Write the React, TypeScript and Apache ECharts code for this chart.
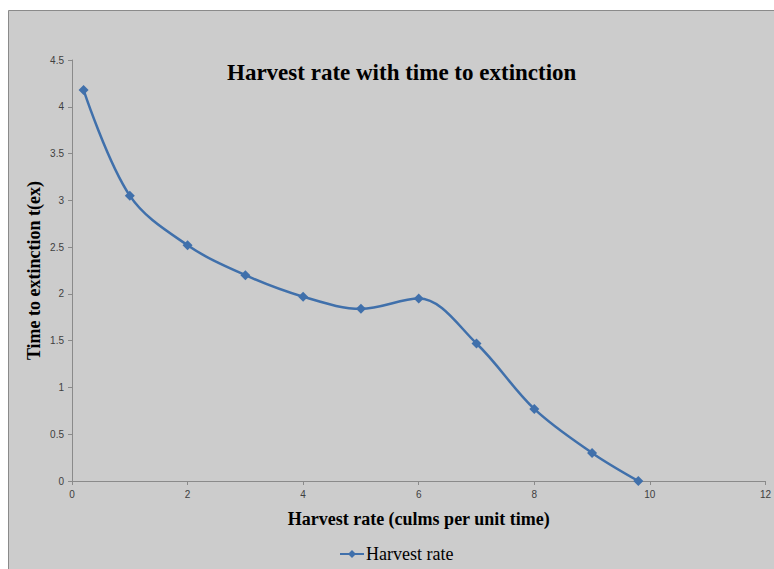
import React, { useEffect, useRef } from "react";
import * as echarts from "echarts";

const harvestRates = [0.2, 1, 2, 3, 4, 5, 6, 7, 8, 9, 9.8];
const timeToExtinction = [4.18, 3.05, 2.52, 2.2, 1.97, 1.84, 1.95, 1.47, 0.77, 0.3, 0];
const seriesName = "Harvest rate";
const titleText = "Harvest rate with time to extinction";
const xAxisName = "Harvest rate (culms per unit time)";
const yAxisName = "Time to extinction t(ex)";

export default function App() {
  const ref = useRef<HTMLDivElement>(null);
  useEffect(() => {
    if (!ref.current) return;
    const chart = echarts.init(ref.current, undefined, { renderer: "svg" });
    const lineColor = "#4070ab";
    const serif = "'Liberation Serif', 'Times New Roman', serif";
    const sans = "'Liberation Sans', Arial, sans-serif";
    chart.setOption({
      animation: false,
      backgroundColor: "#ffffff",
      graphic: [
        {
          type: "rect",
          shape: { x: 8.5, y: 10.5, width: 800, height: 600 },
          style: { fill: "#cccccc", stroke: "#8a8a8a", lineWidth: 1 },
          z: -10,
          silent: true,
        },
      ],
      title: {
        text: titleText,
        left: 222,
        top: 56,
        textStyle: { fontFamily: serif, fontSize: 23, fontWeight: "bold", color: "#000" },
      },
      grid: { left: 72, right: 6, top: 60, bottom: 88 },
      legend: {
        top: 540,
        left: 334,
        itemWidth: 24,
        itemHeight: 10,
        itemGap: 4,
        textStyle: { fontFamily: serif, fontSize: 18, color: "#000", padding: [0, 0, 0, -3] },
        data: [seriesName],
      },
      xAxis: {
        type: "value",
        min: 0,
        max: 12,
        interval: 2,
        name: xAxisName,
        nameLocation: "middle",
        nameGap: 29,
        nameTextStyle: { fontFamily: serif, fontSize: 18, fontWeight: "bold", color: "#000" },
        axisLine: { show: true, lineStyle: { color: "#8a8a8a" } },
        axisTick: { show: true, length: 4, lineStyle: { color: "#8a8a8a" } },
        axisLabel: { fontFamily: sans, fontSize: 10, color: "#404040", margin: 8 },
        splitLine: { show: false },
      },
      yAxis: {
        type: "value",
        min: 0,
        max: 4.5,
        interval: 0.5,
        name: yAxisName,
        nameLocation: "middle",
        nameGap: 29,
        nameMoveOverlap: false,
        nameTextStyle: { fontFamily: serif, fontSize: 18, fontWeight: "bold", color: "#000" },
        axisLine: { show: true, lineStyle: { color: "#8a8a8a" } },
        axisTick: { show: true, length: 4, lineStyle: { color: "#8a8a8a" } },
        axisLabel: { fontFamily: sans, fontSize: 10, color: "#404040", margin: 8 },
        splitLine: { show: false },
      },
      series: [
        {
          name: seriesName,
          type: "line",
          smooth: 0.35,
          data: harvestRates.map((x, i) => [x, timeToExtinction[i]]),
          symbol: "diamond",
          symbolSize: 10,
          lineStyle: { color: lineColor, width: 2.5 },
          itemStyle: { color: lineColor },
        },
      ],
    });
    return () => chart.dispose();
  }, []);
  return (
    <div
      ref={ref}
      style={{ position: "absolute", left: 0, top: 0, width: 774, height: 569 }}
    />
  );
}
